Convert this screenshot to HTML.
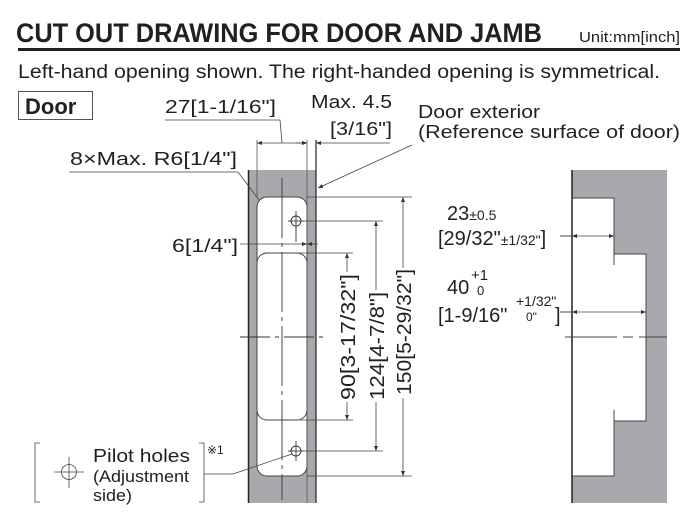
<!DOCTYPE html>
<html><head><meta charset="utf-8"><style>
html,body{margin:0;padding:0;background:#fff;}
svg{display:block;}
text{font-family:"Liberation Sans",sans-serif;fill:#231f20;}
.n{font-family:"Liberation Sans Narrow","Liberation Sans",sans-serif;}
</style></head><body>
<svg width="688" height="513" viewBox="0 0 688 513" xmlns="http://www.w3.org/2000/svg">
<defs>
<marker id="a" viewBox="0 0 10 10" refX="10" refY="5" markerWidth="7" markerHeight="5" orient="auto-start-reverse" markerUnits="userSpaceOnUse"><path d="M0,1 L10,5 L0,9 z" fill="#333"/></marker>
</defs>
<text class="n" x="16" y="42" font-size="27" font-weight="bold" textLength="526" lengthAdjust="spacingAndGlyphs">CUT OUT DRAWING FOR DOOR AND JAMB</text>
<text class="n" x="579" y="42" font-size="15" textLength="101" lengthAdjust="spacingAndGlyphs">Unit:mm[inch]</text>
<rect x="18" y="48" width="662" height="3" fill="#231f20"/>
<text x="18" y="78" font-size="19" textLength="642" lengthAdjust="spacingAndGlyphs">Left-hand opening shown. The right-handed opening is symmetrical.</text>
<rect x="18.5" y="91.5" width="74" height="28" fill="none" stroke="#555" stroke-width="1"/>
<text x="25" y="114" font-size="22" font-weight="bold">Door</text>

<rect x="248" y="170" width="68" height="333" fill="#a7a9ac"/>
<line x1="248.5" y1="170" x2="248.5" y2="503" stroke="#222" stroke-width="1.5"/>
<line x1="316" y1="140" x2="316" y2="503" stroke="#222" stroke-width="1.2"/>
<rect x="257" y="197" width="50" height="279" rx="10" fill="#fff" stroke="#444" stroke-width="1"/>
<rect x="257" y="253" width="50" height="167" rx="10" fill="#fff" stroke="#444" stroke-width="1"/>
<line x1="307" y1="140" x2="307" y2="503" stroke="#555" stroke-width="0.8"/>
<line x1="257" y1="140" x2="257" y2="197" stroke="#555" stroke-width="0.8"/>
<line x1="282" y1="178" x2="282" y2="500" stroke="#444" stroke-width="1" stroke-dasharray="60,5,4,5"/>
<line x1="240" y1="337" x2="324" y2="337" stroke="#333" stroke-width="1" stroke-dasharray="30,5,4,5"/>
<g stroke="#333" stroke-width="0.9" fill="none">
<circle cx="296" cy="221" r="5"/><line x1="296" y1="211" x2="296" y2="242"/><line x1="288" y1="221" x2="304" y2="221"/>
<circle cx="296" cy="451" r="5"/><line x1="296" y1="441" x2="296" y2="461"/><line x1="288" y1="451" x2="304" y2="451"/>
</g>
<g stroke="#444" stroke-width="0.8" fill="none">
<line x1="257" y1="143" x2="307" y2="143" marker-start="url(#a)" marker-end="url(#a)"/>
<line x1="316" y1="143" x2="390" y2="143" marker-start="url(#a)"/>
<line x1="296" y1="143" x2="307" y2="143" marker-end="url(#a)"/>
<polyline points="165,120 280,120 282,143"/>
<line x1="412" y1="145" x2="318" y2="188" marker-end="url(#a)"/>
<polyline points="69,172 238,172 259,200"/>
<line x1="240" y1="244" x2="296" y2="244"/>
<line x1="296" y1="244" x2="307" y2="244" marker-end="url(#a)"/>
<line x1="318" y1="244" x2="307" y2="244" marker-end="url(#a)"/>
<line x1="307" y1="197" x2="412" y2="197"/><line x1="307" y1="476" x2="412" y2="476"/>
<line x1="403" y1="197" x2="403" y2="476" marker-start="url(#a)" marker-end="url(#a)"/>
<line x1="300" y1="221" x2="383" y2="221"/><line x1="300" y1="451" x2="383" y2="451"/>
<line x1="376" y1="221" x2="376" y2="451" marker-start="url(#a)" marker-end="url(#a)"/>
<line x1="300" y1="253" x2="353" y2="253"/><line x1="300" y1="420" x2="353" y2="420"/>
<line x1="347" y1="253" x2="347" y2="420" marker-start="url(#a)" marker-end="url(#a)"/>
</g>
<rect x="335" y="272" width="24" height="130" fill="#fff"/>
<rect x="364" y="290" width="24" height="112" fill="#fff"/>
<rect x="391" y="268" width="24" height="130" fill="#fff"/>
<text transform="translate(355,400) rotate(-90)" font-size="20" textLength="126" lengthAdjust="spacingAndGlyphs">90[3-17/32"]</text>
<text transform="translate(384,400) rotate(-90)" font-size="20" textLength="108" lengthAdjust="spacingAndGlyphs">124[4-7/8"]</text>
<text transform="translate(411,395) rotate(-90)" font-size="20" textLength="126" lengthAdjust="spacingAndGlyphs">150[5-29/32"]</text>

<text x="165" y="113" font-size="18" textLength="111" lengthAdjust="spacingAndGlyphs">27[1-1/16"]</text>
<text x="311" y="108" font-size="18" textLength="81" lengthAdjust="spacingAndGlyphs">Max. 4.5</text>
<text x="330" y="135" font-size="18" textLength="62" lengthAdjust="spacingAndGlyphs">[3/16"]</text>
<text x="418" y="118" font-size="18" textLength="122" lengthAdjust="spacingAndGlyphs">Door exterior</text>
<text x="418" y="138" font-size="18" textLength="262" lengthAdjust="spacingAndGlyphs">(Reference surface of door)</text>
<text x="70" y="165" font-size="18" textLength="167" lengthAdjust="spacingAndGlyphs">8×Max. R6[1/4"]</text>
<text x="172" y="252" font-size="18" textLength="66" lengthAdjust="spacingAndGlyphs">6[1/4"]</text>

<g stroke="#444" stroke-width="0.8" fill="none">
<polyline points="40,443 35,443 35,502 40,502"/>
<polyline points="199,443 204,443 204,502 199,502"/>
<circle cx="69" cy="472" r="7.5"/><line x1="54" y1="472" x2="84" y2="472"/><line x1="69" y1="457" x2="69" y2="488"/>
<polyline points="204,474 233,474 292,454"/>
</g>
<text x="93" y="462" font-size="18" textLength="97" lengthAdjust="spacingAndGlyphs">Pilot holes</text>
<text x="93" y="482" font-size="17" textLength="96" lengthAdjust="spacingAndGlyphs">(Adjustment</text>
<text x="93" y="501" font-size="17" textLength="39" lengthAdjust="spacingAndGlyphs">side)</text>
<text x="207" y="454" font-size="12">※1</text>

<path d="M572,170 H667 V503 H572 V476 H614 V421 H646 V254 H614 V198 H572 Z" fill="#a7a9ac"/>
<g stroke="#444" stroke-width="1" fill="none">
<line x1="572" y1="170" x2="572" y2="503" stroke="#222" stroke-width="1.5"/>
<polyline points="572,198 614,198 614,254 646,254 646,421 614,421 614,476 572,476"/>
<line x1="614" y1="254" x2="614" y2="265"/><line x1="614" y1="410" x2="614" y2="421"/>
<line x1="565" y1="337" x2="667" y2="337" stroke-dasharray="52,6,10,6"/>
<line x1="560" y1="236" x2="572" y2="236"/>
<line x1="572" y1="236" x2="614" y2="236" marker-start="url(#a)" marker-end="url(#a)" stroke-width="0.8"/>
<line x1="560" y1="312" x2="572" y2="312"/>
<line x1="572" y1="312" x2="646" y2="312" marker-start="url(#a)" marker-end="url(#a)" stroke-width="0.8"/>
</g>
<text x="447" y="220" font-size="20">23<tspan font-size="14">±0.5</tspan></text>
<text x="438" y="245" font-size="20">[29/32"<tspan font-size="14">±1/32"</tspan>]</text>
<text x="447" y="294" font-size="20">40</text>
<text x="471" y="280" font-size="15">+1</text>
<text x="477" y="295" font-size="13">0</text>
<text x="438" y="322" font-size="20">[1-9/16"</text>
<text x="516" y="306" font-size="14">+1/32"</text>
<text x="526" y="321" font-size="12">0"</text>
<text x="555" y="322" font-size="20">]</text>
</svg>
</body></html>
